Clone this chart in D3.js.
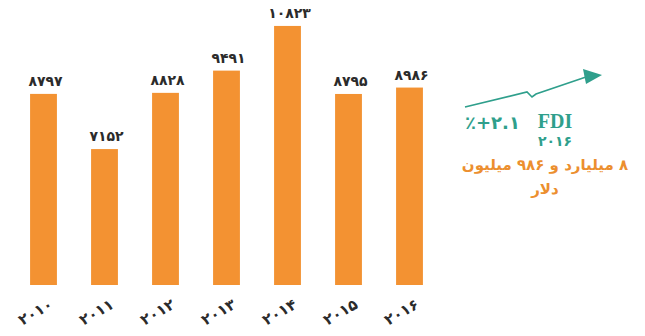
<!DOCTYPE html>
<html>
<head>
<meta charset="utf-8">
<script src="https://cdn.jsdelivr.net/npm/d3@7"></script>
<style>
  body { margin: 0; background: #fff; }
</style>
</head>
<body>
<div class="bar-diagram"></div>
<script>
var years = ["۲۰۱۰", "۲۰۱۱", "۲۰۱۲", "۲۰۱۳", "۲۰۱۴", "۲۰۱۵", "۲۰۱۶"];
var values = [8797, 7152, 8828, 9491, 10823, 8795, 8986];
var valueLabels = ["۸۷۹۷", "۷۱۵۲", "۸۸۲۸", "۹۴۹۱", "۱۰۸۲۳", "۸۷۹۵", "۸۹۸۶"];

var svgWidth = 645;
var svgHeight = 336;
var orange = "#f39232";
var teal = "#2f9f8c";
var font = '"DejaVu Sans", sans-serif';

var svg = d3.select('.bar-diagram')
  .append('svg')
  .attr('width', svgWidth)
  .attr('height', svgHeight);

var xScale = d3.scaleBand()
  .domain(d3.range(values.length))
  .range([13, 440])
  .paddingInner(0.56)
  .paddingOuter(0.28);

// baseline is not zero in the original graphic
var yScale = d3.scaleLinear()
  .domain([3100, 11000])
  .range([285, 20]);

// bars
svg.selectAll('rect.bar')
  .data(values)
  .enter()
  .append('rect')
  .attr('class', 'bar')
  .attr('x', function (d, i) { return xScale(i); })
  .attr('y', function (d) { return yScale(d); })
  .attr('width', xScale.bandwidth())
  .attr('height', function (d) { return yScale.range()[0] - yScale(d); })
  .attr('fill', orange);

// value labels
svg.selectAll('text.val')
  .data(values)
  .enter()
  .append('text')
  .attr('class', 'val')
  .attr('x', function (d, i) { return xScale(i) + xScale.bandwidth() / 2 + 2; })
  .attr('y', function (d) { return yScale(d) - 8; })
  .attr('text-anchor', 'middle')
  .style('font-family', font)
  .style('font-size', '14px')
  .style('font-weight', 'bold')
  .attr('fill', '#2b2b2b')
  .text(function (d, i) { return valueLabels[i]; });

// year labels, rotated
svg.selectAll('text.year')
  .data(years)
  .enter()
  .append('text')
  .attr('class', 'year')
  .attr('transform', function (d, i) {
    return 'translate(' + (xScale(i) + xScale.bandwidth() / 2 - 8) + ',312) rotate(-30)';
  })
  .attr('text-anchor', 'middle')
  .attr('dy', '0.35em')
  .style('font-family', font)
  .style('font-size', '15px')
  .style('font-weight', 'bold')
  .attr('fill', '#2b2b2b')
  .text(function (d) { return d; });

// arrow with zigzag
var arrowPath = d3.line()([[465, 107], [527, 92], [532, 97], [536, 94], [586, 77]]);
svg.append('path')
  .attr('d', arrowPath)
  .attr('fill', 'none')
  .attr('stroke', teal)
  .attr('stroke-width', 1.6);
svg.append('path')
  .attr('d', d3.line()([[583, 69], [602, 75], [586, 84]]) + 'Z')
  .attr('fill', teal);

// growth text
svg.append('text')
  .attr('x', 465)
  .attr('y', 129)
  .style('font-family', font)
  .style('font-size', '18px')
  .style('font-weight', 'bold')
  .attr('fill', teal)
  .text('٪+۲.۱');

svg.append('text')
  .attr('x', 555)
  .attr('y', 128)
  .attr('text-anchor', 'middle')
  .style('font-family', '"Liberation Serif", serif')
  .style('font-size', '20px')
  .style('font-weight', 'bold')
  .attr('fill', teal)
  .text('FDI');

svg.append('text')
  .attr('x', 555)
  .attr('y', 146)
  .attr('text-anchor', 'middle')
  .style('font-family', font)
  .style('font-size', '14px')
  .style('font-weight', 'bold')
  .attr('fill', teal)
  .text('۲۰۱۶');

svg.append('text')
  .attr('x', 545)
  .attr('y', 170)
  .attr('text-anchor', 'middle')
  .attr('direction', 'rtl')
  .style('font-family', font)
  .style('font-size', '15px')
  .style('font-weight', 'bold')
  .attr('fill', '#ec8f2f')
  .text('۸ میلیارد و ۹۸۶ میلیون');

svg.append('text')
  .attr('x', 545)
  .attr('y', 194)
  .attr('text-anchor', 'middle')
  .style('font-family', font)
  .style('font-size', '15px')
  .style('font-weight', 'bold')
  .attr('fill', '#ec8f2f')
  .text('دلار');
</script>
</body>
</html>
